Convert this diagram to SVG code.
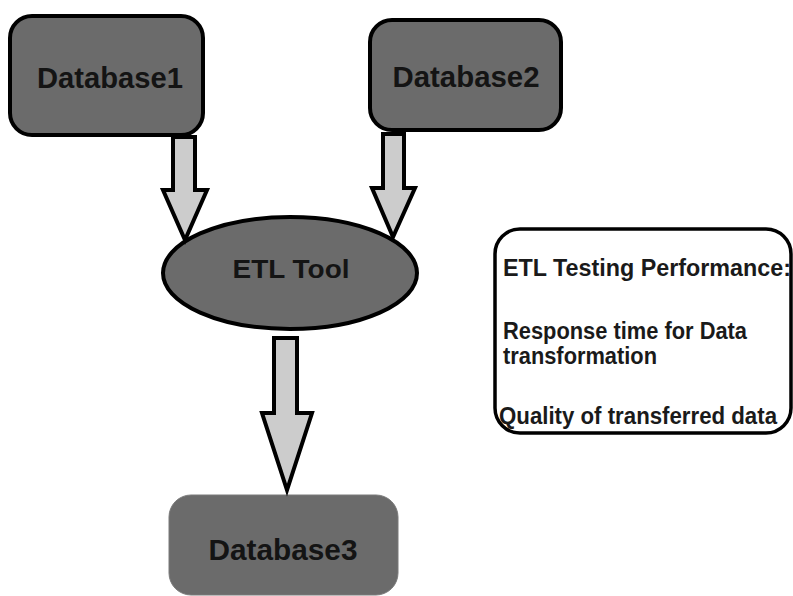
<svg xmlns="http://www.w3.org/2000/svg" width="793" height="596" viewBox="0 0 793 596">
<style>
.db{fill:#6b6b6b;stroke:#000;stroke-width:4}
.lbl{font-family:"Liberation Sans",Arial,sans-serif;font-weight:bold;fill:#141414;text-anchor:middle}
.arr{fill:#cccccc;stroke:#000;stroke-width:4;stroke-linejoin:miter}
.info{font-family:"Liberation Sans",Arial,sans-serif;font-weight:bold;fill:#1a1a1a;font-size:23.5px}
</style>
<rect width="793" height="596" fill="#fff"/>
<g id="database1">
<rect class="db" x="10" y="16" width="193" height="119" rx="22"/>
<text class="lbl" x="110" y="88" font-size="29" textLength="146" lengthAdjust="spacingAndGlyphs">Database1</text>
</g>
<g id="database2">
<rect class="db" x="370" y="20" width="191" height="110" rx="22"/>
<text class="lbl" x="466" y="87" font-size="29" textLength="147" lengthAdjust="spacingAndGlyphs">Database2</text>
</g>
<g id="etl-tool">
<ellipse class="db" cx="290" cy="273" rx="127" ry="56"/>
<text class="lbl" x="291" y="278" font-size="26" textLength="117" lengthAdjust="spacingAndGlyphs">ETL Tool</text>
</g>
<g id="database3">
<rect x="169" y="495" width="229" height="100" rx="22" fill="#6b6b6b" stroke="#7a7a7a" stroke-width="1"/>
<text class="lbl" x="283" y="560" font-size="29" textLength="149" lengthAdjust="spacingAndGlyphs">Database3</text>
</g>
<g id="info">
<rect x="495" y="229" width="296" height="204" rx="25" fill="#fff" stroke="#000" stroke-width="3.5"/>
<text class="info" x="503" y="276" textLength="288" lengthAdjust="spacingAndGlyphs">ETL Testing Performance:</text>
<text class="info" x="503" y="339" textLength="244" lengthAdjust="spacingAndGlyphs">Response time for Data</text>
<text class="info" x="503" y="364" textLength="154" lengthAdjust="spacingAndGlyphs">transformation</text>
<text class="info" x="499" y="424" textLength="278" lengthAdjust="spacingAndGlyphs">Quality of transferred data</text>
</g>
<g id="connectors">
<polygon class="arr" points="173,137 195,137 195,190 207,190 185,240 163,190 173,190"/>
<polygon class="arr" points="383,134 404,134 404,188 415,188 393,237 372,188 383,188"/>
<polygon class="arr" points="274,338 297,338 297,413 312,413 287,490 262,413 274,413"/>
</g>
</svg>
